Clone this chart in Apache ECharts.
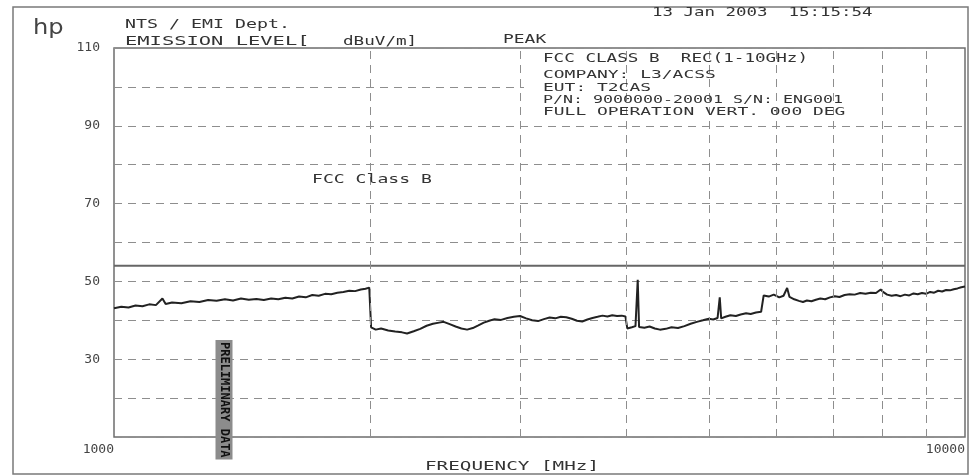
<!DOCTYPE html>
<html>
<head>
<meta charset="utf-8">
<title>EMISSION LEVEL</title>
<script src="https://cdn.jsdelivr.net/npm/echarts@6/dist/echarts.min.js"></script>
<style>
    html, body { margin: 0; padding: 0; background: #fff; }
    #chart { width: 971px; height: 476px; }
</style>
</head>
<body>
<div id="chart"></div>
<script>
const freqMHz = [
    1000, 1020, 1040, 1060, 1080, 1100, 1120, 1140, 1150, 1170, 1200, 1230, 1260, 1290, 1320, 1350,
    1380, 1410, 1440, 1470, 1500, 1530, 1560, 1590, 1620, 1650, 1680, 1710, 1740, 1770, 1800, 1830,
    1860, 1890, 1920, 1950, 1975, 1995,
    2005, 2030, 2060, 2100, 2140, 2180, 2210, 2250, 2290, 2330, 2370, 2410, 2440, 2480, 2520, 2560,
    2600, 2640, 2680, 2720, 2760, 2800, 2850, 2900, 2950, 3000, 3050, 3100, 3150, 3200, 3250, 3300,
    3350, 3400, 3450, 3500, 3550, 3600, 3650, 3700, 3750, 3800, 3850, 3900, 3950, 3990,
    4010, 4060, 4100, 4125, 4140, 4200, 4260, 4320, 4380, 4450, 4520, 4600, 4680, 4760, 4840, 4920,
    5000, 5060, 5120, 5150, 5170, 5230, 5300, 5380, 5450, 5530, 5600, 5680, 5760,
    5800, 5880, 5960, 6050, 6120, 6180, 6220, 6300, 6380, 6450, 6520, 6600, 6680, 6760, 6850, 6940,
    7030, 7120, 7220, 7320, 7420, 7530, 7640, 7750, 7860, 7960, 8010, 8100, 8200, 8300, 8400, 8500,
    8600, 8700, 8800, 8900, 9000, 9100, 9200, 9300, 9400, 9500, 9600, 9700, 9800, 9900, 10000
];
const levelDbuv = [
    43.1, 43.5, 43.3, 43.8, 43.6, 44.1, 43.9, 45.6, 44.2, 44.6, 44.4, 44.9, 44.7, 45.2, 45.0, 45.4,
    45.1, 45.6, 45.3, 45.5, 45.2, 45.6, 45.4, 45.8, 45.6, 46.1, 45.9, 46.5, 46.3, 46.8, 46.7, 47.1,
    47.3, 47.6, 47.5, 47.9, 48.1, 48.4,
    38.2, 37.6, 37.9, 37.4, 37.1, 36.9, 36.6, 37.2, 37.8, 38.6, 39.1, 39.4, 39.6, 39.0, 38.4, 37.9,
    37.6, 38.0, 38.7, 39.4, 39.9, 40.3, 40.1, 40.6, 40.9, 41.1, 40.5, 40.0, 39.8, 40.3, 40.7, 40.5,
    40.9, 40.8, 40.4, 39.9, 39.7, 40.2, 40.6, 40.9, 41.2, 41.0, 41.3, 41.1, 41.2, 41.0,
    37.9, 38.2, 38.5, 50.4, 38.3, 38.1, 38.4, 37.9, 37.6, 37.8, 38.2, 38.0, 38.5, 39.1, 39.6, 40.0,
    40.4, 40.2, 40.6, 45.9, 40.5, 40.9, 41.3, 41.1, 41.5, 41.8, 41.6, 42.0, 42.2,
    46.4, 46.1, 46.6, 45.9, 46.3, 48.3, 46.0, 45.4, 45.0, 44.7, 45.1, 44.9, 45.3, 45.6, 45.4, 45.9,
    46.2, 46.0, 46.5, 46.7, 46.6, 47.0, 46.8, 47.1, 47.0, 47.9, 47.3, 46.6, 46.3, 46.5, 46.2, 46.6,
    46.4, 46.9, 46.7, 47.0, 46.8, 47.3, 47.1, 47.6, 47.4, 47.8, 47.7, 48.0, 48.2, 48.5, 48.7
];
// FCC class B limit
const limitFreq = [1000, 10000];
const limitLevel = [54, 54];
// dashed minor frequency grid
const minorFreq = [2000, 3000, 4000, 5000, 6000, 7000, 8000, 9000];
const yTickLabels = [30, 50, 70, 90, 110];
const xTickLabels = [1000, 10000];

const MONO = '"DejaVu Sans Mono", monospace';
const INK = '#333';
const DASH = [8, 6];

// plotter font is wide, so stretch the mono text to the measured char width
function txt(s, x, y, charW, size, extra) {
    return Object.assign({
        type: 'text',
        x: x,
        y: y,
        scaleX: charW / (0.602 * size),
        z: 10,
        style: {
            text: s,
            fontSize: size,
            fontFamily: MONO,
            fill: INK,
            textAlign: 'left',
            align: 'left',
            textVerticalAlign: 'middle',
            verticalAlign: 'middle'
        }
    }, extra || {});
}

var myChart = echarts.init(document.getElementById('chart'));
var option = {
    animation: false,
    backgroundColor: '#fff',
    grid: {
        left: 114,
        right: 6,
        top: 48,
        bottom: 39,
        show: true,
        borderColor: '#6e6e6e',
        borderWidth: 1.5
    },
    xAxis: {
        type: 'log',
        logBase: 10,
        min: 1000,
        max: 10000,
        axisLine: { show: false },
        axisTick: { show: false },
        splitLine: { show: false },
        axisLabel: {
            formatter: function (v) {
                var r = Math.round(v);
                return xTickLabels.indexOf(r) >= 0 ? String(r) : '';
            },
            align: 'right',
            margin: 6,
            fontSize: 13,
            fontFamily: MONO,
            color: '#444'
        }
    },
    yAxis: {
        type: 'value',
        min: 10,
        max: 110,
        interval: 10,
        axisLine: { show: false },
        axisTick: { show: false },
        splitLine: {
            lineStyle: { type: DASH, color: '#8e8e8e', width: 1 }
        },
        axisLabel: {
            formatter: function (v) {
                return yTickLabels.indexOf(v) >= 0 ? String(v) : '';
            },
            margin: 14,
            fontSize: 13,
            fontFamily: MONO,
            color: '#444'
        }
    },
    series: [
        {
            name: 'EMISSION LEVEL',
            type: 'line',
            showSymbol: false,
            symbol: 'none',
            data: freqMHz.map(function (f, i) { return [f, levelDbuv[i]]; }),
            lineStyle: { color: '#222', width: 2 },
            markLine: {
                silent: true,
                symbol: ['none', 'none'],
                label: { show: false },
                lineStyle: { type: DASH, color: '#8e8e8e', width: 1 },
                data: minorFreq.map(function (f) { return { xAxis: f }; })
            }
        },
        {
            name: 'FCC Class B',
            type: 'line',
            showSymbol: false,
            symbol: 'none',
            data: limitFreq.map(function (f, i) { return [f, limitLevel[i]]; }),
            lineStyle: { color: '#666', width: 2 }
        }
    ],
    graphic: [
        // outer frame
        {
            type: 'rect',
            shape: { x: 13, y: 7, width: 955, height: 467 },
            style: { fill: 'none', stroke: '#7a7a7a', lineWidth: 1.5 },
            z: 10
        },
        // white panel behind the legend text
        {
            type: 'rect',
            shape: { x: 524, y: 49.5, width: 440, height: 75 },
            style: { fill: '#fff' },
            z: 5
        },
        {
            type: 'text',
            x: 33,
            y: 29,
            scaleX: 1.15,
            z: 10,
            style: {
                text: 'hp',
                fontSize: 21,
                fontFamily: '"DejaVu Sans", sans-serif',
                fill: '#444',
                textAlign: 'left',
                align: 'left',
                textVerticalAlign: 'middle',
                verticalAlign: 'middle'
            }
        },
        txt('NTS / EMI Dept.', 125, 25, 11, 13),
        txt('EMISSION LEVEL[', 125, 42, 12.3, 13),
        txt('dBuV/m]', 343, 42, 10.6, 13),
        txt('PEAK', 503, 40, 10.8, 13),
        txt('13 Jan 2003  15:15:54', 652, 13, 10.5, 13),
        txt('FCC CLASS B  REC(1-10GHz)', 543, 59, 10.6, 12),
        txt('COMPANY: L3/ACSS', 543, 75, 10.8, 11),
        txt('EUT: T2CAS', 543, 88, 10.8, 11),
        txt('P/N: 9000000-20001 S/N: ENG001', 543, 100, 10.0, 11),
        txt('FULL OPERATION VERT. 000 DEG', 543, 112, 10.8, 11),
        txt('FCC Class B', 312, 180, 10.9, 13),
        txt('FREQUENCY [MHz]', 425, 467, 11.6, 13),
        // rubber stamp
        {
            type: 'text',
            x: 224,
            y: 340,
            rotation: -Math.PI / 2,
            z: 10,
            style: {
                text: 'PRELIMINARY DATA',
                fontSize: 12,
                fontWeight: 'bold',
                fontFamily: MONO,
                fill: '#111',
                backgroundColor: '#8c8c8c',
                padding: [3, 2, 2, 2],
                textAlign: 'left',
                align: 'left',
                textVerticalAlign: 'middle',
                verticalAlign: 'middle'
            }
        }
    ]
};
myChart.setOption(option);
window.addEventListener('resize', () => {
    myChart.resize()
})
</script>
</body>
</html>
